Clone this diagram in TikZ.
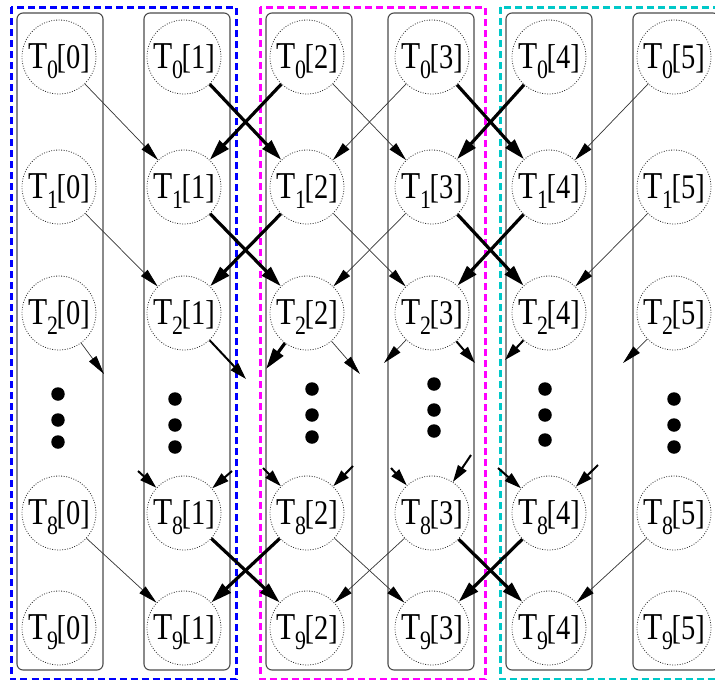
\documentclass[tikz,border=0pt]{standalone}
\usepackage{fontspec}
\setmainfont{Liberation Serif}
\usetikzlibrary{arrows.meta}
\definecolor{grpblue}{RGB}{0,0,255}
\definecolor{grpmag}{RGB}{255,0,255}
\definecolor{grpcyan}{RGB}{0,200,200}
\newcommand\tlab[2]{\scalebox{0.95}[1.15]{{\fontsize{33}{33}\selectfont T}\raisebox{-9pt}{\fontsize{23}{23}\selectfont #1}\kern-1.5pt{\fontsize{30}{30}\selectfont[#2]}}}
\begin{document}
\begin{tikzpicture}[x=1pt,y=-1pt,
  colbox/.style={draw=black!70, line width=1.1pt, rounded corners=6pt},
  grp/.style={dash pattern=on 7pt off 4pt, line width=3pt},
  tnode/.style={circle, draw=black!80, dash pattern=on 0.9pt off 1.6pt, line width=0.8pt, minimum size=74pt, inner sep=0pt, text height=23pt, text depth=0pt},
  thinarr/.style={draw=black!80, line width=0.7pt, -{Triangle[length=19pt,width=9pt,black]}},
  medarr/.style={draw=black, line width=2pt, -{Triangle[length=17pt,width=10pt]}},
  thickarr/.style={draw=black, line width=3.2pt, -{Triangle[length=21pt,width=12pt]}},
  dotb/.style={circle, fill=black, minimum size=13.5pt, inner sep=0pt}
]
\useasboundingbox (0,0) rectangle (715,680);
\clip (0,0) rectangle (715,680);
% group boxes
\draw[grp, grpblue] (11,7) rectangle (236,679.5);
\draw[grp, grpmag] (260,7) rectangle (485,679.5);
\draw[grp, grpcyan] (500,7) rectangle (735,679.5);
% column boxes
\foreach \xa/\xb in {17/103,144/230,266/352,388/474,506/592,633/719}{
  \draw[colbox] (\xa,13) rectangle (\xb,670);
}
% nodes
\foreach \r/\y in {0/57,1/187,2/313,8/513,9/628}{
  \foreach \j/\x in {0/59,1/184,2/307,3/432,4/549,5/674}{
    \node[tnode] (c\r-\j) at (\x,\y) {\tlab{\r}{\j}};
  }
}
% dots
\foreach \j/\x/\ya/\yb/\yc in {0/58/394/420/442,1/175/399/425/447,2/312/389/415/437,3/434/384/410/431,4/545/389/415/440,5/674/399/425/447}{
  \node[dotb] (d\j-a) at (\x,\ya) {};
  \node[dotb] (d\j-b) at (\x,\yb) {};
  \node[dotb] (d\j-c) at (\x,\yc) {};
}
% full edges
\foreach \a/\b in {0/1,1/2,8/9}{
  \foreach \s/\t/\st in {0/1/thinarr,1/2/thickarr,2/1/thickarr,2/3/thinarr,3/2/thinarr,3/4/thickarr,4/3/thickarr,5/4/thinarr}{
    \draw[\st] (c\a-\s) -- (c\b-\t);
  }
}
% outgoing stubs from row 2
\coordinate (o0r) at (104,374);
\coordinate (o1r) at (246,379);
\coordinate (o2l) at (266,369);
\coordinate (o2r) at (360,374);
\coordinate (o3l) at (384,363);
\coordinate (o3r) at (475,363);
\coordinate (o4l) at (505,360);
\coordinate (o5l) at (623,363);
\draw[thinarr] (c2-0) -- (o0r);
\draw[medarr] (c2-1) -- (o1r);
\draw[thickarr] (c2-2) -- (o2l);
\draw[thinarr] (c2-2) -- (o2r);
\draw[thinarr] (c2-3) -- (o3l);
\draw[medarr] (c2-3) -- (o3r);
\draw[medarr] (c2-4) -- (o4l);
\draw[thinarr] (c2-5) -- (o5l);
% incoming stubs into row 8
\coordinate (i1l) at (138,471);
\coordinate (i1r) at (232,471);
\coordinate (i2l) at (263,468);
\coordinate (i2r) at (353,466);
\coordinate (i3l) at (391,468);
\coordinate (i3r) at (471,455);
\coordinate (i4l) at (498,468);
\coordinate (i4r) at (598,465);
\draw[medarr] (i1l) -- (c8-1);
\draw[medarr] (i1r) -- (c8-1);
\draw[medarr] (i2l) -- (c8-2);
\draw[medarr] (i2r) -- (c8-2);
\draw[medarr] (i3l) -- (c8-3);
\draw[medarr] (i3r) -- (c8-3);
\draw[medarr] (i4l) -- (c8-4);
\draw[medarr] (i4r) -- (c8-4);
\end{tikzpicture}
\end{document}
